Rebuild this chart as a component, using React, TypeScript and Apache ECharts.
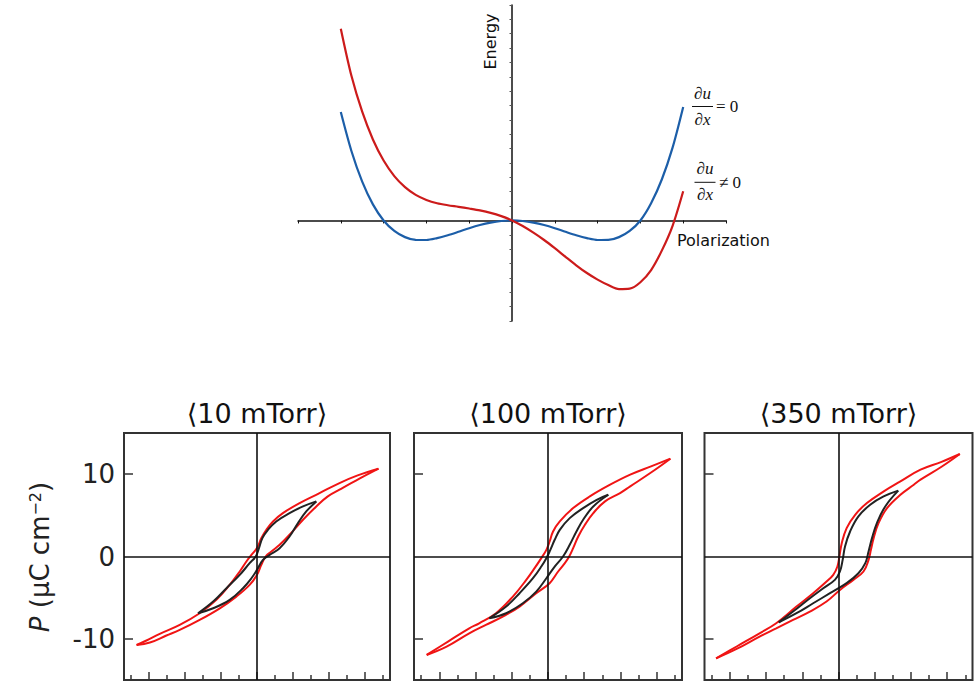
import React, { useEffect, useRef } from "react";
import * as echarts from "echarts";

// ---------- Top chart: free energy vs polarization ----------
const ENERGY_X = [-4, -3.75, -3.5, -3.25, -3, -2.75, -2.5, -2.25, -2, -1.75, -1.5, -1.25, -1, -0.75, -0.5, -0.25, 0,
  0.25, 0.5, 0.75, 1, 1.25, 1.5, 1.75, 2, 2.25, 2.5, 2.75, 3, 3.25, 3.5, 3.75, 4];
const ENERGY_ZERO_STRAIN = [7.55, 4.82, 2.7, 1.12, 0.0, -0.73, -1.16, -1.35, -1.36, -1.23, -1.03, -0.79, -0.54, -0.32, -0.15, -0.04, 0,
  -0.04, -0.15, -0.32, -0.54, -0.79, -1.03, -1.23, -1.36, -1.35, -1.16, -0.73, 0.0, 1.2, 2.85, 5.05, 7.9];
const ENERGY_STRAIN = [13.35, 10.05, 7.57, 5.64, 4.17, 3.09, 2.32, 1.78, 1.43, 1.2, 1.06, 0.95, 0.83, 0.7, 0.53, 0.3, 0,
  -0.39, -0.85, -1.36, -1.93, -2.53, -3.12, -3.66, -4.12, -4.5, -4.78, -4.75, -4.3, -3.45, -2.1, -0.39, 2.03];

// ---------- Bottom panels: P–E hysteresis loops ----------
const PANEL_TITLES = ["⟨10 mTorr⟩", "⟨100 mTorr⟩", "⟨350 mTorr⟩"];
const P_TICK_VALUES = [-10, 10];
const P_LABEL_VALUES = [-10, 0, 10];
const E_MAJOR_TICKS = [-6, -4, -2, 0, 2, 4, 6];
const E_MINOR_TICKS = [-7, -5, -3, -1, 1, 3, 5, 7];

const LOOP10_RED_UP = [[6.76, 10.66], [5.6, 9.85], [4.59, 8.92], [3.48, 7.7], [2.37, 6.49], [1.44, 5.27], [0.89, 4.26], [0.52, 3.24], [0.24, 2.23], [0.09, 1.42], [-0.07, 0.81], [-0.31, 0.2], [-0.59, -0.61], [-0.96, -1.82], [-1.52, -3.45], [-2.26, -5.27], [-3.19, -6.89], [-4.3, -8.31], [-5.41, -9.4], [-6.15, -10.2], [-6.7, -10.75]];
const LOOP10_RED_DOWN = [[-6.7, -10.75], [-5.96, -10.45], [-5.04, -9.6], [-4.3, -8.92], [-3.19, -7.7], [-2.07, -6.29], [-1.15, -4.87], [-0.41, -3.45], [0, -2.23], [0.24, -1.01], [0.48, 0], [0.8, 0.61], [1.26, 1.42], [1.81, 2.64], [2.56, 4.46], [3.3, 6.08], [3.94, 7.3], [4.59, 8.11], [5.7, 9.45], [6.76, 10.66]];
const LOOP10_BLACK_UP = [[3.3, 6.69], [2.56, 6.08], [1.81, 5.27], [1.07, 4.26], [0.61, 3.24], [0.3, 2.23], [0.11, 1.01], [-0.07, 0], [-0.41, -0.81], [-0.96, -2.23], [-1.7, -3.85], [-2.44, -5.47], [-3.28, -6.89]];
const LOOP10_BLACK_DOWN = [[-3.28, -6.89], [-2.44, -6.29], [-1.52, -5.27], [-0.78, -3.85], [-0.31, -2.64], [0, -1.62], [0.33, -0.41], [0.7, 0.2], [1.26, 1.01], [1.81, 2.43], [2.28, 4.06], [2.74, 5.47], [3.3, 6.69]];

const LOOP100_RED_UP = [[6.76, 11.88], [5.69, 10.95], [4.54, 9.94], [3.43, 8.72], [2.31, 7.3], [1.39, 5.88], [0.65, 4.26], [0.28, 3.04], [0.09, 1.82], [-0.09, 0.81], [-0.37, -0.2], [-0.74, -1.42], [-1.2, -2.84], [-1.94, -4.87], [-2.87, -6.89], [-3.8, -8.11], [-4.35, -8.72], [-5.5, -10.3], [-6.7, -11.96]];
const LOOP100_RED_DOWN = [[-6.7, -11.96], [-5.6, -10.95], [-4.35, -9.33], [-3.43, -8.31], [-2.5, -7.3], [-1.57, -6.08], [-0.65, -4.46], [0.09, -3.24], [0.56, -1.82], [0.93, -0.81], [1.17, 0], [1.39, 1.01], [1.67, 2.43], [2.04, 3.85], [2.5, 5.27], [3.15, 6.69], [3.98, 7.7], [4.54, 8.52], [5.69, 10.2], [6.76, 11.88]];
const LOOP100_BLACK_UP = [[3.33, 7.5], [2.69, 6.89], [1.94, 5.88], [1.2, 4.66], [0.65, 3.24], [0.37, 2.03], [0.13, 0.81], [-0.06, -0.08], [-0.37, -1.22], [-0.83, -2.64], [-1.57, -4.46], [-2.31, -6.08], [-3.24, -7.5]];
const LOOP100_BLACK_DOWN = [[-3.24, -7.5], [-2.31, -6.89], [-1.39, -5.68], [-0.65, -4.26], [-0.09, -2.64], [0.37, -1.22], [0.83, 0], [1.2, 1.42], [1.57, 3.04], [1.94, 4.46], [2.5, 6.08], [3.33, 7.5]];

const LOOP350_RED_UP = [[6.7, 12.45], [5.69, 11.5], [4.53, 10.54], [3.42, 9.12], [2.5, 7.91], [1.57, 6.49], [0.92, 5.07], [0.45, 3.45], [0.18, 1.62], [0.05, 0], [-0.06, -1.22], [-0.29, -2.23], [-0.66, -3.04], [-1.4, -4.46], [-2.32, -6.08], [-3.44, -8.11], [-4.36, -9.33], [-5.6, -10.9], [-6.76, -12.37]];
const LOOP350_RED_DOWN = [[-6.76, -12.37], [-5.6, -11.2], [-4.36, -9.73], [-3.44, -8.72], [-2.51, -7.7], [-1.58, -6.69], [-0.66, -5.47], [0.08, -4.06], [0.82, -2.84], [1.38, -1.82], [1.66, -0.41], [1.79, 0.81], [1.94, 2.23], [2.21, 4.06], [2.68, 5.88], [3.42, 7.5], [4.16, 8.72], [4.53, 9.33], [5.69, 10.9], [6.7, 12.45]];
const LOOP350_BLACK_UP = [[3.3, 8.0], [2.49, 7.3], [1.75, 6.29], [1.1, 4.87], [0.64, 3.04], [0.36, 1.22], [0.23, -0.41], [0.08, -1.82], [-0.2, -2.84], [-0.84, -3.85], [-1.58, -5.07], [-2.51, -6.69], [-3.3, -8.0]];
const LOOP350_BLACK_DOWN = [[-3.3, -8.0], [-2.32, -6.89], [-1.4, -5.68], [-0.47, -4.46], [0.45, -3.24], [1.1, -2.03], [1.48, -0.81], [1.66, 0.61], [1.85, 2.23], [2.12, 4.06], [2.58, 6.08], [3.3, 8.0]];

const PANEL_LOOPS = [
  { red: [LOOP10_RED_UP, LOOP10_RED_DOWN], black: [LOOP10_BLACK_UP, LOOP10_BLACK_DOWN] },
  { red: [LOOP100_RED_UP, LOOP100_RED_DOWN], black: [LOOP100_BLACK_UP, LOOP100_BLACK_DOWN] },
  { red: [LOOP350_RED_UP, LOOP350_RED_DOWN], black: [LOOP350_BLACK_UP, LOOP350_BLACK_DOWN] },
];

const SANS = '"DejaVu Sans", "Liberation Sans", sans-serif';
const SERIF = '"Liberation Serif", "DejaVu Serif", serif';

function buildOption() {
  const panelGrids = [
    { left: 124, top: 433, width: 266, height: 247 },
    { left: 414, top: 433, width: 268, height: 247 },
    { left: 704.5, top: 433, width: 268, height: 247 },
  ];
  const panelCenters = panelGrids.map((g) => g.left + g.width / 2);

  const grid: any[] = [
    { left: 298, top: 5, width: 428, height: 316 },
    ...panelGrids.map((g) => ({ ...g, show: true, borderColor: "#333", borderWidth: 2, backgroundColor: "transparent" })),
  ];

  const xAxis: any[] = [
    {
      gridIndex: 0, type: "value", min: -5, max: 5, interval: 1,
      axisLine: { onZero: true, lineStyle: { color: "#111", width: 1.5 } },
      axisTick: { show: true, length: 3, lineStyle: { color: "#111", width: 1 } },
      axisLabel: { show: false }, splitLine: { show: false },
    },
  ];
  const yAxis: any[] = [
    {
      gridIndex: 0, type: "value", min: -7, max: 15, interval: 1,
      axisLine: { onZero: true, lineStyle: { color: "#111", width: 1.5 } },
      axisTick: { show: true, length: 2.5, lineStyle: { color: "#555", width: 1 } },
      axisLabel: { show: false }, splitLine: { show: false },
    },
  ];
  const series: any[] = [
    {
      type: "line", xAxisIndex: 0, yAxisIndex: 0, smooth: 0.3, showSymbol: false, symbol: "none",
      data: ENERGY_X.map((x, i) => [x, ENERGY_ZERO_STRAIN[i]]),
      lineStyle: { color: "#1c5ea8", width: 2.2 }, z: 3,
    },
    {
      type: "line", xAxisIndex: 0, yAxisIndex: 0, smooth: 0.3, showSymbol: false, symbol: "none",
      data: ENERGY_X.map((x, i) => [x, ENERGY_STRAIN[i]]),
      lineStyle: { color: "#cc1b1b", width: 2.2 }, z: 3,
    },
  ];

  panelGrids.forEach((_, p) => {
    const gi = p + 1;
    const majorIdx = xAxis.length;
    xAxis.push({
      gridIndex: gi, type: "value", min: -7.4, max: 7.4, position: "bottom",
      axisLine: { show: false, onZero: false },
      axisTick: { show: true, inside: true, length: 8, customValues: E_MAJOR_TICKS, lineStyle: { color: "#333", width: 1.5 } },
      axisLabel: { show: false }, splitLine: { show: false },
    });
    xAxis.push({
      gridIndex: gi, type: "value", min: -7.4, max: 7.4, position: "bottom",
      axisLine: { show: false, onZero: false },
      axisTick: { show: true, inside: true, length: 5, customValues: E_MINOR_TICKS, lineStyle: { color: "#333", width: 1.5 } },
      axisLabel: { show: false }, splitLine: { show: false },
    });
    const yIdx = yAxis.length;
    yAxis.push({
      gridIndex: gi, type: "value", min: -15, max: 15, position: "left",
      axisLine: { show: false, onZero: false },
      axisTick: { show: true, inside: true, length: 9, customValues: P_TICK_VALUES, lineStyle: { color: "#333", width: 1.5 } },
      axisLabel: p === 0
        ? { show: true, customValues: P_LABEL_VALUES, margin: 9, fontSize: 26, fontFamily: SANS, color: "#222" }
        : { show: false },
      splitLine: { show: false },
    });
    // zero lines
    series.push({
      type: "line", xAxisIndex: majorIdx, yAxisIndex: yIdx, data: [[0, 0]], showSymbol: false, symbol: "none",
      lineStyle: { width: 0 }, z: 1,
      markLine: {
        silent: true, symbol: ["none", "none"], label: { show: false },
        lineStyle: { color: "#111", width: 1.6, type: "solid" },
        data: [{ xAxis: 0 }, { yAxis: 0 }],
      },
    });
    const loops = PANEL_LOOPS[p];
    loops.red.forEach((d) => series.push({
      type: "line", xAxisIndex: majorIdx, yAxisIndex: yIdx, data: d, smooth: 0.4, showSymbol: false, symbol: "none",
      lineStyle: { color: "#f01414", width: 2 }, z: 3,
    }));
    loops.black.forEach((d) => series.push({
      type: "line", xAxisIndex: majorIdx, yAxisIndex: yIdx, data: d, smooth: 0.4, showSymbol: false, symbol: "none",
      lineStyle: { color: "#222", width: 2 }, z: 4,
    }));
  });

  const frac = (cx: number, yNum: number, yBar: number, yDen: number, rel: string, relX: number, relY: number) => [
    {
      type: "text", x: cx, y: yNum,
      style: {
        text: "{d|∂}{i|u}", align: "center", verticalAlign: "middle", fill: "#111",
        rich: {
          d: { fontSize: 17, fontFamily: SERIF, fill: "#111" },
          i: { fontSize: 17, fontFamily: SERIF, fontStyle: "italic", fill: "#111" },
        },
      },
    },
    { type: "line", shape: { x1: cx - 10.5, y1: yBar, x2: cx + 10.5, y2: yBar }, style: { stroke: "#111", lineWidth: 1 } },
    {
      type: "text", x: cx, y: yDen,
      style: {
        text: "{d|∂}{i|x}", align: "center", verticalAlign: "middle", fill: "#111",
        rich: {
          d: { fontSize: 17, fontFamily: SERIF, fill: "#111" },
          i: { fontSize: 17, fontFamily: SERIF, fontStyle: "italic", fill: "#111" },
        },
      },
    },
    {
      type: "text", x: relX, y: relY,
      style: { text: rel, fontSize: 17, fontFamily: SERIF, fill: "#111", align: "left", verticalAlign: "middle" },
    },
  ];

  const graphic: any[] = [
    {
      type: "text", x: 490, y: 41.5, rotation: Math.PI / 2,
      style: { text: "Energy", fontSize: 16, fontFamily: SANS, fill: "#111", align: "center", verticalAlign: "middle" },
    },
    {
      type: "text", x: 677, y: 240,
      style: { text: "Polarization", fontSize: 16, fontFamily: SANS, fill: "#111", align: "left", verticalAlign: "middle" },
    },
    ...frac(702.5, 93, 106.5, 119.5, "= 0", 716, 106),
    ...frac(705, 168, 182.3, 194.5, "≠ 0", 719, 182),
    ...PANEL_TITLES.map((t, i) => ({
      type: "text", x: panelCenters[i], y: 413,
      style: { text: t, fontSize: 27, fontFamily: SANS, fill: "#111", align: "center", verticalAlign: "middle" },
    })),
    {
      type: "text", x: 40, y: 557, rotation: Math.PI / 2,
      style: {
        text: "{i|P} (μC cm{s|−2})", align: "center", verticalAlign: "middle", fill: "#222",
        fontSize: 26, fontFamily: SANS,
        rich: {
          i: { fontSize: 26, fontFamily: SANS, fontStyle: "italic", fill: "#222" },
          s: { fontSize: 16, fontFamily: SANS, fill: "#222", verticalAlign: "top" },
        },
      },
    },
  ];

  return { animation: false, backgroundColor: "#fff", grid, xAxis, yAxis, series, graphic };
}

export default function App() {
  const ref = useRef<HTMLDivElement>(null);
  useEffect(() => {
    if (!ref.current) return;
    const chart = echarts.init(ref.current, undefined, { renderer: "svg" });
    chart.setOption(buildOption() as any);
    return () => chart.dispose();
  }, []);
  return (
    <div
      ref={ref}
      style={{ position: "fixed", left: 0, top: 0, width: 975, height: 682, background: "#fff" }}
    />
  );
}
